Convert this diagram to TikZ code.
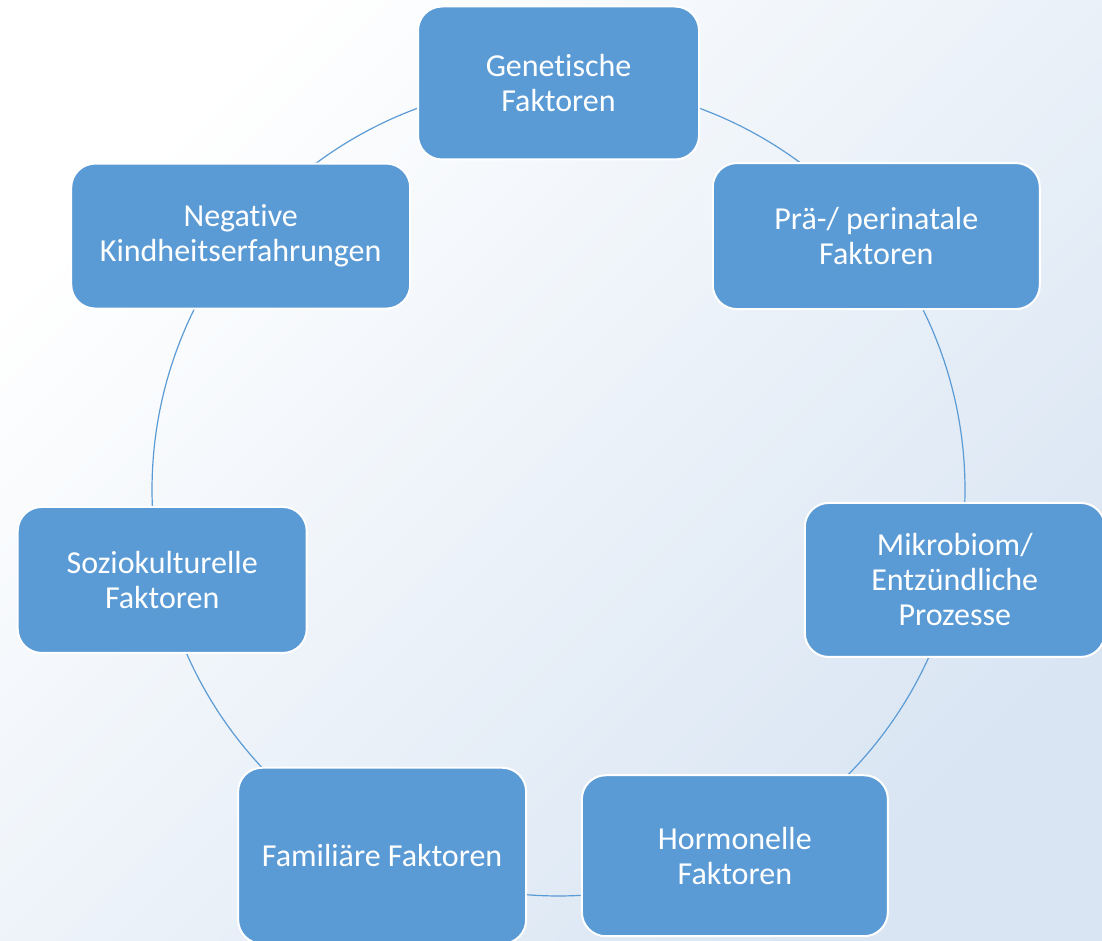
\documentclass[tikz,border=0pt]{standalone}
\usepackage{fontspec}
\setmainfont[Ligatures=NoCommon]{Carlito}
\usetikzlibrary{backgrounds}
\definecolor{boxblue}{HTML}{5B9BD5}
\definecolor{backblue}{HTML}{D9E5F3}
\begin{document}
\begin{tikzpicture}[x=1pt,y=1pt,
    factor/.style={rectangle,rounded corners=24pt,draw=white,line width=2pt,fill=boxblue,
        text=white,align=center,font=\fontsize{32}{35}\selectfont},
    ring/.style={boxblue,line width=1.2pt}]
    \def\r{406.5pt}
    \useasboundingbox (0,0) rectangle (1102,-941);

    % sieben Faktoren auf dem Kreis
    \begin{scope}[shift={(558.5,-489.5)}]
        \node[factor,minimum width=281pt,minimum height=153pt] (gen) at (90:\r) {Genetische\\Faktoren};
        \node[factor,minimum width=327pt,minimum height=146pt] (pre) at ({90-360/7}:\r) {Prä-/ perinatale\\Faktoren};
        \node[factor,minimum width=300pt,minimum height=154pt] (mik) at ({90-2*360/7}:\r) {Mikrobiom/\\Entzündliche\\Prozesse};
        \node[factor,minimum width=306pt,minimum height=161pt] (hor) at ({90-3*360/7}:\r) {Hormonelle\\Faktoren};
        \node[factor,minimum width=288pt,minimum height=176pt] (fam) at ({90-4*360/7}:\r) {Familiäre Faktoren};
        \node[factor,minimum width=289pt,minimum height=146pt] (soz) at ({90-5*360/7}:\r) {Soziokulturelle\\Faktoren};
        \node[factor,minimum width=339pt,minimum height=145pt] (neg) at ({90-6*360/7}:\r) {Negative\\Kindheitserfahrungen};
    \end{scope}

    \begin{scope}[on background layer]
        \shade[top color=white,bottom color=backblue,shading angle=45] (0,0) rectangle (1102,-941);
        % Kreisboegen von Faktor zu Faktor
        \foreach \n [count=\i from 0] in {gen,pre,mik,hor,fam,soz,neg}
            \draw[ring] (\n.center) arc[start angle={90-360/7*\i},delta angle={-360/7},radius=\r];
    \end{scope}
\end{tikzpicture}
\end{document}
